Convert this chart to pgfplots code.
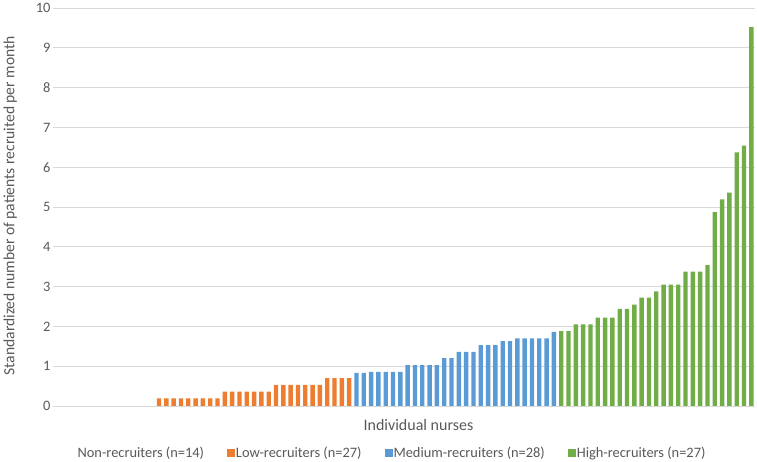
\documentclass[border=0pt]{standalone}
\usepackage{fontspec}
\setmainfont{Carlito}
\usepackage{pgfplots}
\pgfplotsset{compat=1.18}
\definecolor{lowc}{HTML}{ED7D31}
\definecolor{medc}{HTML}{5B9BD5}
\definecolor{highc}{HTML}{70AD47}
\definecolor{gridc}{HTML}{D9D9D9}
\definecolor{txt}{HTML}{595959}
\begin{document}
\begin{tikzpicture}
\path[use as bounding box] (-53pt,-56pt) rectangle (704pt,406pt);
\begin{axis}[
    scale only axis,
    width=702pt, height=398pt,
    ybar, bar width=0.6, bar shift=0pt,
    xmin=-0.5, xmax=95.5,
    ymin=0, ymax=10, ytick={0,...,10},
    xtick=\empty,
    ymajorgrids,
    grid style={gridc, line width=0.9pt},
    axis line style={draw=none},
    major tick length=0pt,
    /pgf/number format/assume math mode=true,
    yticklabel style={font=\fontsize{14.4}{17}\selectfont, text=txt, xshift=1pt},
    ylabel={Standardized number of patients recruited per month},
    ylabel style={at={(axis description cs:-0.061,0.503)}, anchor=center, font=\fontsize{15.6}{18}\selectfont, text=txt},
    xlabel={Individual nurses},
    xlabel style={at={(axis description cs:0.5206,-0.048)}, anchor=center, font=\fontsize{16}{19}\selectfont, text=txt},
    legend style={at={(axis description cs:0.4765,-0.118)}, anchor=center, draw=none,
        font=\fontsize{14.4}{17}\selectfont, text=txt, legend columns=4,
        nodes={inner xsep=1pt},
        /tikz/every odd column/.append style={column sep=0pt},
        /tikz/every even column/.append style={column sep=22pt}},
    legend image code/.code={\fill[#1] (0pt,-4pt) rectangle (8pt,4pt);},
]
% non-recruiters
\addplot[fill=white, draw=none] coordinates {
(0,0) (1,0) (2,0) (3,0) (4,0) (5,0) (6,0) (7,0) (8,0) (9,0) (10,0) (11,0) (12,0) (13,0)};
% low-recruiters
\addplot[fill=lowc, draw=none] coordinates {
(14,0.19) (15,0.19) (16,0.19) (17,0.19) (18,0.19) (19,0.19) (20,0.19) (21,0.19) (22,0.19)
(23,0.36) (24,0.36) (25,0.36) (26,0.36) (27,0.36) (28,0.36) (29,0.36)
(30,0.53) (31,0.53) (32,0.53) (33,0.53) (34,0.53) (35,0.53) (36,0.53)
(37,0.70) (38,0.70) (39,0.70) (40,0.70)};
% medium-recruiters
\addplot[fill=medc, draw=none] coordinates {
(41,0.83) (42,0.83)
(43,0.86) (44,0.86) (45,0.86) (46,0.86) (47,0.86)
(48,1.03) (49,1.03) (50,1.03) (51,1.03) (52,1.03)
(53,1.20) (54,1.20)
(55,1.36) (56,1.36) (57,1.36)
(58,1.53) (59,1.53) (60,1.53)
(61,1.63) (62,1.63)
(63,1.70) (64,1.70) (65,1.70) (66,1.70) (67,1.70)
(68,1.86)};
% high-recruiters
\addplot[fill=highc, draw=none] coordinates {
(69,1.88) (70,1.88)
(71,2.05) (72,2.05) (73,2.05)
(74,2.22) (75,2.22) (76,2.22)
(77,2.44) (78,2.44)
(79,2.55)
(80,2.72) (81,2.72)
(82,2.88)
(83,3.05) (84,3.05) (85,3.05)
(86,3.375) (87,3.375) (88,3.375)
(89,3.54)
(90,4.87) (91,5.19) (92,5.36) (93,6.375) (94,6.54) (95,9.52)};
\legend{Non-recruiters (n=14), Low-recruiters (n=27), Medium-recruiters (n=28), High-recruiters (n=27)}
\end{axis}
\end{tikzpicture}
\end{document}
